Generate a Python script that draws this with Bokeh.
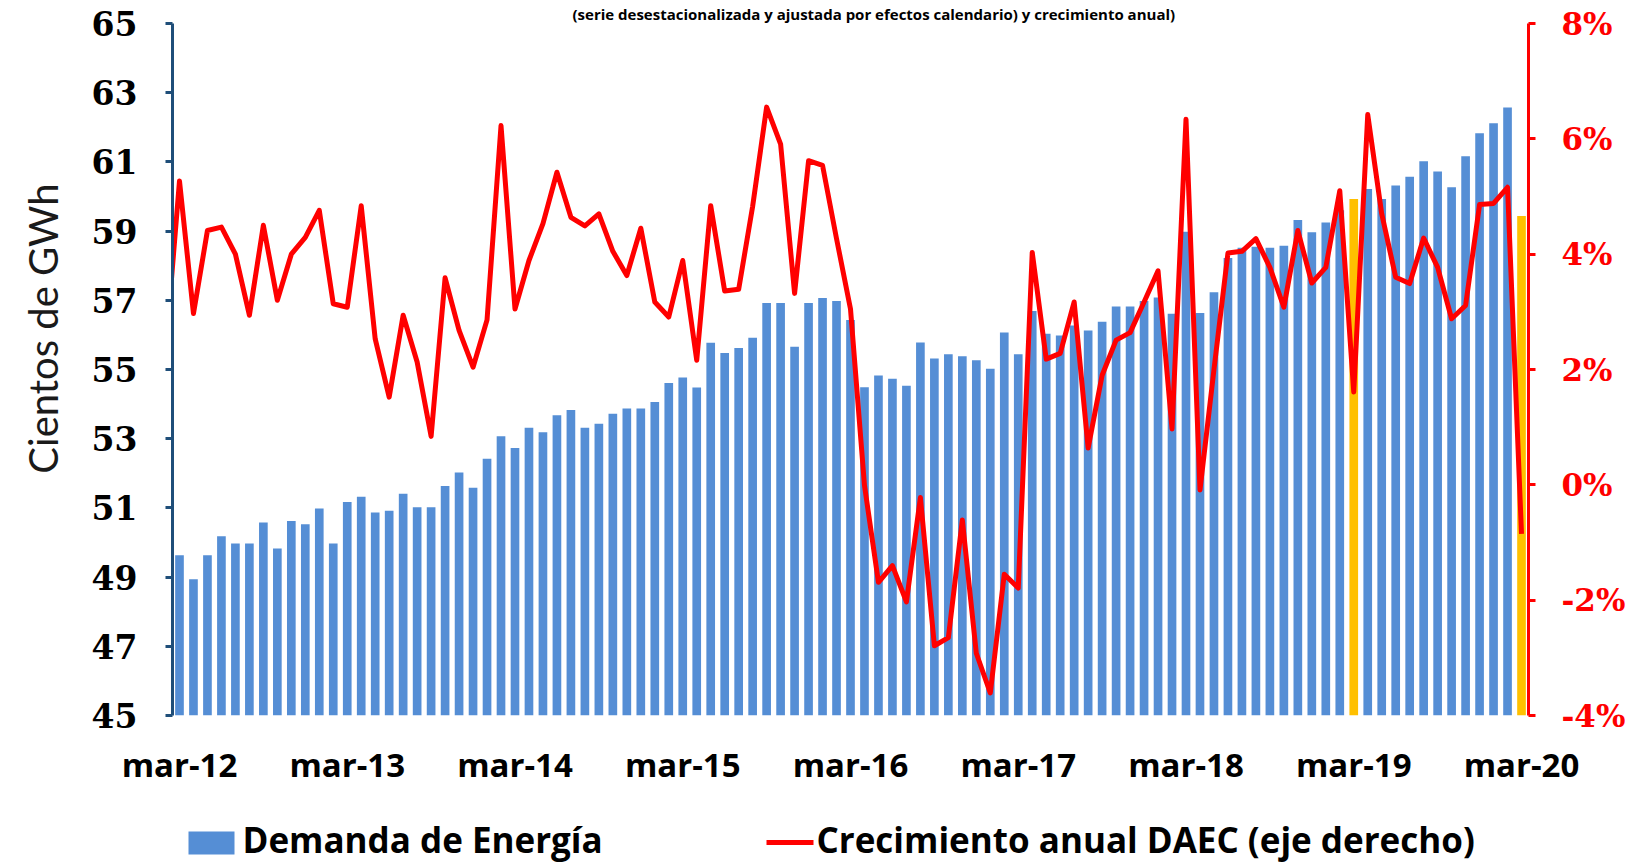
from bokeh.plotting import figure
from bokeh.layouts import column
from bokeh.models import (Range1d, LinearAxis, FixedTicker, PrintfTickFormatter,
                          ColumnDataSource)
from bokeh.core.properties import value
from bokeh.embed import file_html
from bokeh.resources import INLINE

# ---------------- data ----------------
month_abbr = ["ene", "feb", "mar", "abr", "may", "jun", "jul", "ago", "sep", "oct", "nov", "dic"]
months = []
for k in range(97):
    m = (2 + k) % 12
    yr = 12 + (2 + k) // 12
    months.append(f"{month_abbr[m]}-{yr:02d}")

# Demanda de Energía (cientos de GWh), mar-12 .. mar-20
demand = [
    49.63, 48.94, 49.63, 50.18, 49.97, 49.97, 50.58, 49.83, 50.62, 50.53, 50.98, 49.97,
    51.17, 51.32, 50.87, 50.92, 51.41, 51.02, 51.02, 51.63, 52.02, 51.58, 52.42, 53.07,
    52.73, 53.32, 53.19, 53.68, 53.83, 53.32, 53.43, 53.72, 53.87, 53.87, 54.06, 54.61,
    54.77, 54.48, 55.77, 55.48, 55.62, 55.92, 56.92, 56.92, 55.66, 56.92, 57.07, 56.98,
    56.43, 54.49, 54.83, 54.73, 54.53, 55.78, 55.32, 55.44, 55.38, 55.27, 55.02, 56.07,
    55.44, 56.69, 56.03, 55.98, 56.27, 56.13, 56.38, 56.82, 56.82, 56.98, 57.08, 56.61,
    58.98, 56.63, 57.23, 58.22, 58.52, 58.55, 58.52, 58.58, 59.32, 58.97, 59.25, 59.60,
    59.93, 60.22, 59.93, 60.32, 60.57, 61.02, 60.72, 60.27, 61.16, 61.83, 62.12, 62.57,
    59.44,
]

# Crecimiento anual DAEC (%), feb-12 .. mar-20 (first value only partly visible)
growth = [
    2.30,
    5.27, 2.97, 4.41, 4.47, 4.00, 2.94, 4.50, 3.20, 4.00, 4.29, 4.76, 3.14,
    3.08, 4.84, 2.53, 1.52, 2.94, 2.13, 0.84, 3.59, 2.68, 2.04, 2.86, 6.23,
    3.05, 3.89, 4.53, 5.42, 4.64, 4.49, 4.70, 4.05, 3.63, 4.45, 3.17, 2.91,
    3.89, 2.16, 4.84, 3.36, 3.39, 4.83, 6.55, 5.91, 3.32, 5.62, 5.54, 4.27,
    3.05, -0.01, -1.69, -1.40, -2.03, -0.22, -2.79, -2.65, -0.61, -2.92, -3.61, -1.55,
    -1.79, 4.03, 2.18, 2.28, 3.17, 0.64, 1.90, 2.51, 2.64, 3.17, 3.71, 0.97,
    6.34, -0.09, 2.00, 4.02, 4.05, 4.27, 3.77, 3.08, 4.41, 3.50, 3.77, 5.10,
    1.61, 6.42, 4.70, 3.60, 3.49, 4.28, 3.77, 2.88, 3.11, 4.86, 4.88, 5.16,
    -0.85,
]

highlight = ["mar-19", "mar-20"]
tick_labels = ["mar-12", "mar-13", "mar-14", "mar-15", "mar-16", "mar-17", "mar-18", "mar-19", "mar-20"]
left_ticks = [45, 47, 49, 51, 53, 55, 57, 59, 61, 63, 65]
right_ticks = [-4, -2, 0, 2, 4, 6, 8]

title_text = "(serie desestacionalizada y ajustada por efectos calendario) y crecimiento anual)"
y_label = "Cientos de GWh"
legend_labels = ["Demanda de Energía", "Crecimiento anual DAEC (eje derecho)"]

# ---------------- styling ----------------
BLUE = "#558ED5"
YELLOW = "#FFC000"
RED = "#FF0000"
NAVY = "#1F4E79"
W = 1635
LEFT, RIGHT = 172, 107

x = list(range(len(months)))
colors = [YELLOW if m in highlight else BLUE for m in months]
src = ColumnDataSource(dict(x=x, top=demand, color=colors, month=months))
line_x = list(range(-1, len(months)))

p = figure(width=W, height=800,
           x_range=Range1d(-0.5, len(months) - 0.5),
           y_range=Range1d(left_ticks[0], left_ticks[-1]),
           output_backend="svg", toolbar_location=None,
           min_border_left=LEFT, min_border_right=RIGHT,
           min_border_top=23, min_border_bottom=85)
p.extra_y_ranges = {"pct": Range1d(right_ticks[0], right_ticks[-1])}
p.outline_line_color = None
p.grid.visible = False
p.background_fill_color = "white"
p.border_fill_color = "white"

# title (cropped at the top edge in the reference)
p.title.text = title_text
p.title.align = "left"
p.title.offset = 400
p.title.standoff = 0
p.title.text_font = "Open Sans"
p.title.text_font_style = "bold"
p.title.text_font_size = "15px"
p.title.text_color = "black"

bars = p.vbar(x="x", top="top", bottom=left_ticks[0], width=0.62, source=src,
              fill_color="color", line_color=None)
line = p.line(line_x, growth, y_range_name="pct", line_color=RED, line_width=5,
              line_join="round")

# x axis
xa = p.xaxis[0]
tick_pos = [months.index(t) for t in tick_labels]
xa.ticker = FixedTicker(ticks=tick_pos)
xa.major_label_overrides = {tp: lab for tp, lab in zip(tick_pos, tick_labels)}
xa.axis_line_color = None
xa.major_tick_line_color = None
xa.minor_tick_line_color = None
xa.major_label_standoff = 20
xa.major_label_text_font = "Open Sans"
xa.major_label_text_font_style = "bold"
xa.major_label_text_font_size = "33px"
xa.major_label_text_color = "black"

# left axis
ya = p.yaxis[0]
ya.ticker = FixedTicker(ticks=left_ticks)
ya.axis_line_color = NAVY
ya.axis_line_width = 3
ya.major_tick_line_color = NAVY
ya.major_tick_line_width = 3
ya.major_tick_out = 7
ya.major_tick_in = 0
ya.minor_tick_line_color = None
ya.major_label_standoff = 28
ya.major_label_text_font = "DejaVu Serif"
ya.major_label_text_font_style = "bold"
ya.major_label_text_font_size = "33px"
ya.major_label_text_color = "black"
ya.axis_label = "\u00a0" * 8 + y_label
ya.axis_label_text_font = "Lato"
ya.axis_label_text_font_style = "normal"
ya.axis_label_text_font_size = "40px"
ya.axis_label_text_color = "#1a1a1a"
ya.axis_label_standoff = 22

# right axis
ra = LinearAxis(y_range_name="pct", ticker=FixedTicker(ticks=right_ticks),
                formatter=PrintfTickFormatter(format="%d%%"))
ra.axis_line_color = RED
ra.axis_line_width = 3
ra.major_tick_line_color = RED
ra.major_tick_line_width = 3
ra.major_tick_out = 7
ra.major_tick_in = 0
ra.minor_tick_line_color = None
ra.major_label_standoff = 26
ra.major_label_text_font = "DejaVu Serif"
ra.major_label_text_font_style = "bold"
ra.major_label_text_font_size = "31px"
ra.major_label_text_color = RED
p.add_layout(ra, "right")

# ---------------- legend strip (coordinates = page pixels) ----------------
# the column layout aligns this strip's frame with the main frame (x 172..1528)
leg = figure(width=W, height=65, x_range=Range1d(LEFT, W - RIGHT), y_range=Range1d(865, 800),
             output_backend="svg", toolbar_location=None,
             min_border_left=LEFT, min_border_right=RIGHT, min_border_top=0, min_border_bottom=0)
leg.axis.visible = False
leg.grid.visible = False
leg.outline_line_color = None
leg.background_fill_color = "white"
leg.border_fill_color = "white"
leg.quad(left=[188], right=[234], top=[831], bottom=[854], fill_color=BLUE, line_color=None)
leg.line([766, 813], [842, 842], line_color=RED, line_width=5)
leg.text(x=[242, 816], y=[839, 839], text=legend_labels,
         text_font=value("Open Sans"), text_font_style="bold", text_font_size="35px",
         text_color="black", text_baseline="middle", text_align="left")

layout = column(p, leg, spacing=0)
open("out.html", "w").write(file_html(layout, INLINE))
